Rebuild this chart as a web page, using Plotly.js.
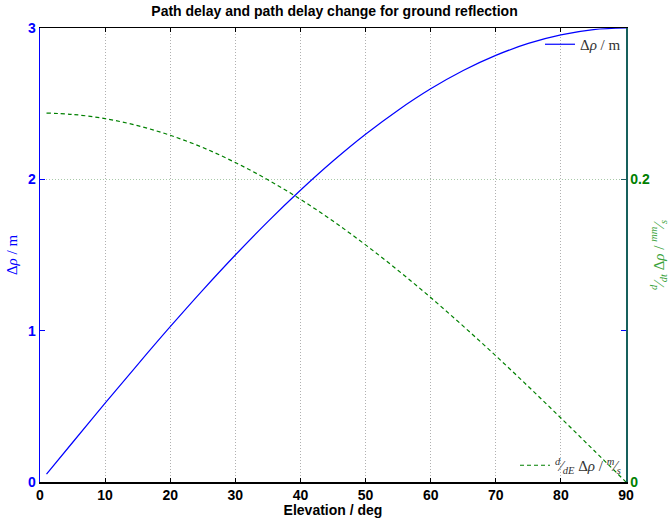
<!DOCTYPE html>
<html>
<head>
<meta charset="utf-8">
<script src="https://cdn.plot.ly/plotly-3.0.1.min.js"></script>
<style>html,body{margin:0;padding:0;background:#fff;}#chart{width:669px;height:518px;}</style>
</head>
<body>
<div id="chart"></div>
<script>
// Elevation angles (deg)
const elevation = [1, 5, 10, 15, 20, 25, 30, 35, 40, 45, 50, 55, 60, 65, 70, 75, 80, 85, 90];
// Path delay Δρ / m (left axis)
const pathDelay = [0.052, 0.261, 0.521, 0.776, 1.026, 1.268, 1.500, 1.721, 1.928, 2.121, 2.298, 2.457, 2.598, 2.719, 2.819, 2.898, 2.954, 2.989, 3.000];
// Path delay change (right axis)
const delayChange = [0.2438, 0.2429, 0.2401, 0.2355, 0.2291, 0.2210, 0.2111, 0.1997, 0.1868, 0.1724, 0.1567, 0.1398, 0.1219, 0.1030, 0.0834, 0.0631, 0.0423, 0.0212, 0.0000];

const xTicks = [0, 10, 20, 30, 40, 50, 60, 70, 80, 90];
const yTicks = [0, 1, 2, 3];
const y2Ticks = [0, 0.2];
const y2TickText = ['0', '0.2'];

const blue = '#0000ff';
const green = '#008000';
const serif = 'Liberation Serif, DejaVu Serif, serif';
const sans = 'Liberation Sans, Arial, Helvetica, sans-serif';

const traces = [
  {
    x: elevation, y: pathDelay, type: 'scatter', mode: 'lines',
    line: {color: blue, width: 1.2, shape: 'spline'},
    name: 'Δ<i>ρ</i> / m', legend: 'legend', yaxis: 'y'
  },
  {
    x: elevation, y: delayChange, type: 'scatter', mode: 'lines',
    line: {color: green, width: 1.2, dash: '4px,3px', shape: 'spline'},
    name: '<sup><i>d</i></sup>⁄<sub><i>dE</i></sub> Δ<i>ρ</i> / <sup><i>m</i></sup>⁄<sub><i>s</i></sub>',
    legend: 'legend2', yaxis: 'y2'
  }
];

const layout = {
  width: 669, height: 518,
  margin: {l: 40, r: 43, t: 28, b: 36},
  paper_bgcolor: '#ffffff', plot_bgcolor: '#ffffff',
  title: {text: '<b>Path delay and path delay change for ground reflection</b>',
    font: {family: sans, size: 14, color: '#000'}, x: 0.5, xanchor: 'center', y: 0.988, yanchor: 'top'},
  xaxis: {
    range: [0, 90], tickvals: xTicks, ticks: 'inside', ticklen: 4, tickcolor: '#000',
    showline: true, linecolor: '#000', linewidth: 1.5, mirror: 'ticks',
    showgrid: true, gridcolor: '#b0b0b0', griddash: '1px,2px', gridwidth: 1, zeroline: false,
    tickfont: {family: sans, size: 14, color: '#000', weight: 'bold'},
    title: {text: '<b>Elevation / deg</b>', font: {family: sans, size: 14, color: '#000'}, standoff: 1}
  },
  yaxis: {
    range: [0, 3], tickvals: yTicks, ticks: 'inside', ticklen: 5, tickcolor: blue,
    showline: true, linecolor: blue, linewidth: 1.5, mirror: 'ticks',
    showgrid: false, zeroline: false,
    tickfont: {family: sans, size: 14, color: blue, weight: 'bold'},
    title: {text: 'Δ<i>ρ</i> / m', font: {family: serif, size: 15, color: blue}, standoff: 6}
  },
  yaxis2: {
    range: [0, 0.3], tickvals: y2Ticks, ticktext: y2TickText, ticks: 'inside', ticklen: 5, tickcolor: '#1f5f5f',
    overlaying: 'y', side: 'right', anchor: 'x',
    showline: true, linecolor: '#16605c', linewidth: 1.5,
    showgrid: true, gridcolor: '#a9c9a9', griddash: '1px,2px', gridwidth: 1, zeroline: false,
    tickfont: {family: sans, size: 14, color: green, weight: 'bold'},
    title: {text: '<sup><i>d</i></sup>⁄<sub><i>dt</i></sub> Δ<i>ρ</i> / <sup><i>mm</i></sup>⁄<sub><i>s</i></sub>',
      font: {family: serif, size: 15, color: '#3aa33a'}, standoff: 4}
  },
  legend: {
    x: 1, xanchor: 'right', y: 1, yanchor: 'top', bgcolor: 'rgba(0,0,0,0)', borderwidth: 0,
    font: {family: serif, size: 15, color: '#333'}, itemwidth: 30, tracegroupgap: 0
  },
  legend2: {
    x: 1, xanchor: 'right', y: 0, yanchor: 'bottom', bgcolor: 'rgba(0,0,0,0)', borderwidth: 0,
    font: {family: serif, size: 15, color: '#333'}, itemwidth: 30, tracegroupgap: 0
  },
  showlegend: true
};

Plotly.newPlot('chart', traces, layout, {displayModeBar: false, staticPlot: true});
</script>
</body>
</html>
